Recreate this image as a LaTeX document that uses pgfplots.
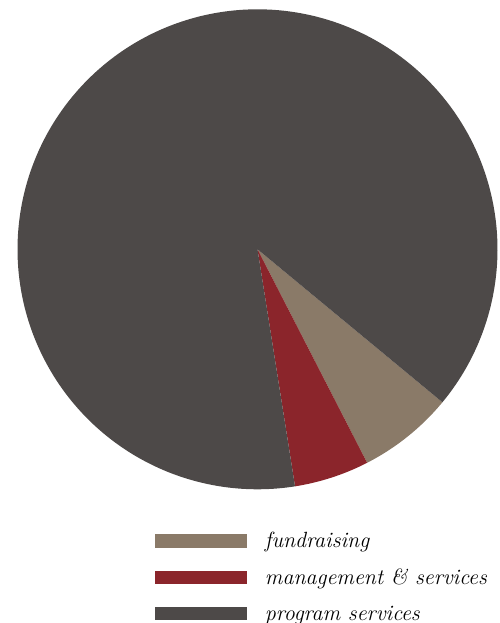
\documentclass[border=0pt]{standalone}
\usepackage{pgfplots}
\pgfplotsset{compat=1.18}
\definecolor{cFund}{RGB}{138,122,104}
\definecolor{cMgmt}{RGB}{139,37,43}
\definecolor{cProg}{RGB}{77,73,72}
% shares in percent, first slice ends at -39.6 deg, slices run clockwise
\def\vFund{6.45}
\def\vMgmt{5.05}
\def\vProg{88.5}
\def\startangle{-39.6}
\begin{document}
\begin{tikzpicture}
\useasboundingbox (0,0) rectangle (499pt,623pt);
\pgfmathsetmacro\aA{\startangle}
\pgfmathsetmacro\aB{\aA-3.6*\vFund}
\pgfmathsetmacro\aC{\aB-3.6*\vMgmt}
\pgfmathsetmacro\aD{\aC-3.6*\vProg}
\begin{axis}[
    at={(17.5pt,133.7pt)}, anchor=south west,
    scale only axis, width=480pt, height=480pt,
    xmin=-1, xmax=1, ymin=-1, ymax=1,
    hide axis, clip=false,
    legend style={draw=none, fill=none, at={(134.5pt,-41pt)}, anchor=north west,
        font=\fontsize{22}{26}\selectfont\itshape, row sep=19.5pt,
        nodes={inner sep=0pt}, column sep=18pt},
    legend cell align=left,
    legend image code/.code={\fill[#1] (0pt,-6.8pt) rectangle (91.7pt,6.8pt);},
]
\addplot[fill=cFund, draw=none, domain=\aB:\aA, samples=60] ({cos(x)},{sin(x)}) -- (axis cs:0,0) -- cycle;
\addplot[fill=cMgmt, draw=none, domain=\aC:\aB, samples=60] ({cos(x)},{sin(x)}) -- (axis cs:0,0) -- cycle;
\addplot[fill=cProg, draw=none, domain=\aD:\aC, samples=300] ({cos(x)},{sin(x)}) -- (axis cs:0,0) -- cycle;
\legend{fundraising, management \& services, program services}
\end{axis}
\end{tikzpicture}
\end{document}
